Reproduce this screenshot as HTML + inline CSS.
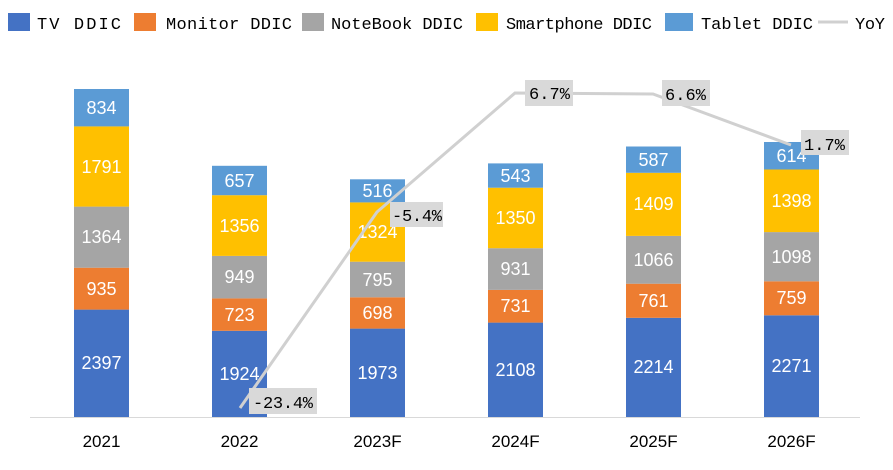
<!DOCTYPE html><html><head><style>body{margin:0;background:#fff}svg{display:block}text{font-family:"Liberation Sans",sans-serif}.m{font-family:"Liberation Mono",monospace}</style></head><body>
<svg width="893" height="470" viewBox="0 0 893 470">
<g font-size="17" class="m">
<rect x="8" y="13" width="22" height="18" fill="#4472c4"/><text class="m" x="37" y="29" textLength="84">TV DDIC</text>
<rect x="134" y="13" width="22" height="18" fill="#ed7d31"/><text class="m" x="166" y="29" textLength="126">Monitor DDIC</text>
<rect x="302" y="13" width="22" height="18" fill="#a5a5a5"/><text class="m" x="331" y="29" textLength="132">NoteBook DDIC</text>
<rect x="476" y="13" width="22" height="18" fill="#ffc000"/><text class="m" x="506" y="29" textLength="146">Smartphone DDIC</text>
<rect x="665" y="13" width="28" height="18" fill="#5b9bd5"/><text class="m" x="701" y="29" textLength="112">Tablet DDIC</text>
<line x1="818" y1="22" x2="848" y2="22" stroke="#d0d0d0" stroke-width="3"/><text class="m" x="855" y="29" textLength="30">YoY</text>
</g>
<line x1="30" y1="417.5" x2="860" y2="417.5" stroke="#d9d9d9"/>
<g id="bars">
<rect x="74" y="309.6" width="55" height="107.4" fill="#4472c4"/><rect x="74" y="267.7" width="55" height="41.9" fill="#ed7d31"/><rect x="74" y="206.6" width="55" height="61.1" fill="#a5a5a5"/><rect x="74" y="126.4" width="55" height="80.2" fill="#ffc000"/><rect x="74" y="89" width="55" height="37.4" fill="#5b9bd5"/>
<rect x="212" y="330.8" width="55" height="86.2" fill="#4472c4"/><rect x="212" y="298.4" width="55" height="32.4" fill="#ed7d31"/><rect x="212" y="255.9" width="55" height="42.5" fill="#a5a5a5"/><rect x="212" y="195.2" width="55" height="60.7" fill="#ffc000"/><rect x="212" y="165.8" width="55" height="29.4" fill="#5b9bd5"/>
<rect x="350" y="328.6" width="55" height="88.4" fill="#4472c4"/><rect x="350" y="297.3" width="55" height="31.3" fill="#ed7d31"/><rect x="350" y="261.7" width="55" height="35.6" fill="#a5a5a5"/><rect x="350" y="202.4" width="55" height="59.3" fill="#ffc000"/><rect x="350" y="179.3" width="55" height="23.1" fill="#5b9bd5"/>
<rect x="488" y="322.6" width="55" height="94.4" fill="#4472c4"/><rect x="488" y="289.9" width="55" height="32.7" fill="#ed7d31"/><rect x="488" y="248.2" width="55" height="41.7" fill="#a5a5a5"/><rect x="488" y="187.7" width="55" height="60.5" fill="#ffc000"/><rect x="488" y="163.4" width="55" height="24.3" fill="#5b9bd5"/>
<rect x="626" y="317.8" width="55" height="99.2" fill="#4472c4"/><rect x="626" y="283.7" width="55" height="34.1" fill="#ed7d31"/><rect x="626" y="235.9" width="55" height="47.8" fill="#a5a5a5"/><rect x="626" y="172.8" width="55" height="63.1" fill="#ffc000"/><rect x="626" y="146.5" width="55" height="26.3" fill="#5b9bd5"/>
<rect x="764" y="315.3" width="55" height="101.7" fill="#4472c4"/><rect x="764" y="281.3" width="55" height="34" fill="#ed7d31"/><rect x="764" y="232.1" width="55" height="49.2" fill="#a5a5a5"/><rect x="764" y="169.5" width="55" height="62.6" fill="#ffc000"/><rect x="764" y="142" width="55" height="27.5" fill="#5b9bd5"/>
</g>
<g fill="#fff" font-size="18" text-anchor="middle">
<text x="101.5" y="369">2397</text><text x="101.5" y="295">935</text><text x="101.5" y="243">1364</text><text x="101.5" y="173">1791</text><text x="101.5" y="114">834</text>
<text x="239.5" y="380">1924</text><text x="239.5" y="321">723</text><text x="239.5" y="283">949</text><text x="239.5" y="232">1356</text><text x="239.5" y="187">657</text>
<text x="377.5" y="379">1973</text><text x="377.5" y="319">698</text><text x="377.5" y="286">795</text><text x="377.5" y="238">1324</text><text x="377.5" y="197">516</text>
<text x="515.5" y="376">2108</text><text x="515.5" y="312">731</text><text x="515.5" y="275">931</text><text x="515.5" y="224">1350</text><text x="515.5" y="182">543</text>
<text x="653.5" y="373">2214</text><text x="653.5" y="307">761</text><text x="653.5" y="266">1066</text><text x="653.5" y="210">1409</text><text x="653.5" y="166">587</text>
<text x="791.5" y="372">2271</text><text x="791.5" y="304">759</text><text x="791.5" y="263">1098</text><text x="791.5" y="207">1398</text><text x="791.5" y="162">614</text>
</g>
<polyline points="240,408 377,212 515,93 653,94 791,145" fill="none" stroke="#d0d0d0" stroke-width="3"/>
<g font-size="17">
<rect x="249" y="388" width="68" height="26" fill="#d9d9d9"/><text class="m" x="253" y="408" textLength="60">-23.4%</text>
<rect x="390" y="202" width="53" height="25" fill="#d9d9d9"/><text class="m" x="392" y="221" textLength="50">-5.4%</text>
<rect x="525" y="80" width="48" height="26" fill="#d9d9d9"/><text class="m" x="529" y="99" textLength="41">6.7%</text>
<rect x="662" y="80" width="48" height="26" fill="#d9d9d9"/><text class="m" x="665" y="100" textLength="41">6.6%</text>
<rect x="801" y="130" width="48" height="25" fill="#d9d9d9"/><text class="m" x="804" y="150" textLength="41">1.7%</text>
</g>
<g font-size="17" text-anchor="middle" fill="#000">
<text x="101.5" y="447">2021</text><text x="239.5" y="447">2022</text><text x="377.5" y="447">2023F</text><text x="515.5" y="447">2024F</text><text x="653.5" y="447">2025F</text><text x="791.5" y="447">2026F</text>
</g>
</svg></body></html>
